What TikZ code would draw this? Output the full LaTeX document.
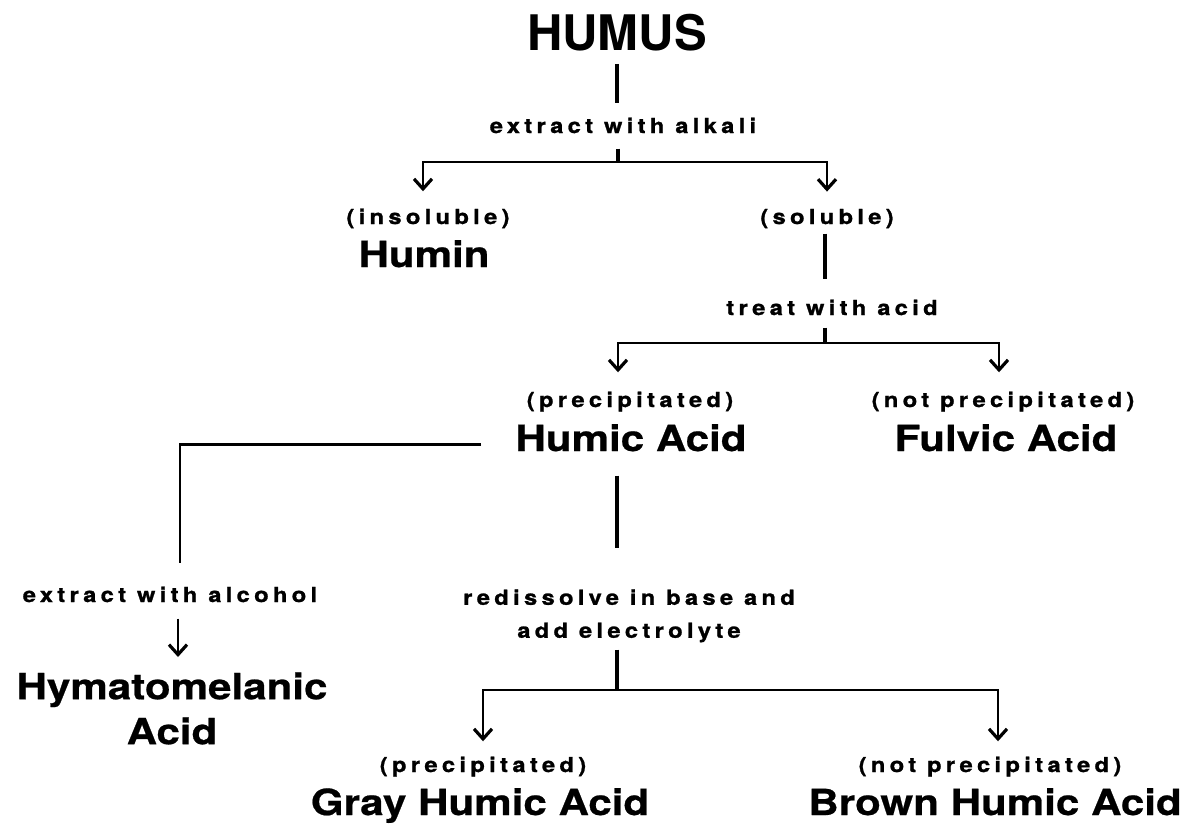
\documentclass[tikz,border=0pt]{standalone}
\usepackage{fontspec}
\setmainfont{TeX Gyre Heros}
\newfontfamily\notefont[LetterSpace=21,FakeStretch=1.15,FakeBold=1.2]{TeX Gyre Heros}
\newfontfamily\prodfont[FakeStretch=1.17,FakeBold=0.6]{TeX Gyre Heros}
\usetikzlibrary{arrows.meta,calc,positioning}
\begin{document}
\begin{tikzpicture}[x=0.5pt,y=-0.5pt,
      title/.style={font=\bfseries\fontsize{24.5}{28}\selectfont,inner sep=0pt,anchor=base},
      prod/.style={font=\prodfont\bfseries\fontsize{18}{22.5}\selectfont,inner sep=0pt,anchor=base},
      note/.style={font=\notefont\bfseries\fontsize{10.3}{16.5}\selectfont,inner sep=0pt,anchor=base},
      stem/.style={line width=1.9pt},
      link/.style={line width=1.3pt},
      arr/.style={link,-{Straight Barb[length=5pt,width=9pt,line width=1.6pt]}}]
      \useasboundingbox (0,0) rectangle (1192,827);
      \node[title] (humus) at (617,50) {HUMUS};
      \node[note] (alkali) at (623,133) {extract with alkali};
      \node[note] (insol) at (428,224) {(insoluble)};
      \node[prod] (humin) at (424,267) {Humin};
      \node[note] (sol) at (827,224) {(soluble)};
      \node[note] (acidtr) at (832,315) {treat with acid};
      \node[note] (prec) at (630,407) {(precipitated)};
      \node[prod] (humic) at (631,451) {Humic Acid};
      \node[note] (noprec) at (1003,407) {(not precipitated)};
      \node[prod] (fulvic) at (1006,451) {Fulvic Acid};
      \node[note] (alcohol) at (170,602) {extract with alcohol};
      \node[prod,align=center,anchor=north] (hymato) at (172,672) {Hymatomelanic\\Acid};
      \node[note,align=center,anchor=north] (redis) at (629,589) {redissolve in base and\\add electrolyte};
      \node[note] (gprec) at (483,772) {(precipitated)};
      \node[prod] (gray) at (480,815) {Gray Humic Acid};
      \node[note] (bprec) at (990,772) {(not precipitated)};
      \node[prod] (brown) at (995,815) {Brown Humic Acid};
      \coordinate (split1) at (618,162);
      \coordinate (split2) at (825,343);
      \coordinate (split3) at (617,690);
      \draw[stem,shorten <=6.5pt,shorten >=7pt] (humus.south) -- (humus.south |- alkali.north);
      \draw[stem,shorten <=7.5pt] (split1 |- alkali.south) -- (split1);
      \draw[arr,shorten >=8.5pt] (split1) -| ([xshift=-2.5pt]insol.north);
      \draw[arr,shorten >=8.5pt] (split1) -| (sol.north);
      \draw[stem,shorten <=2.5pt,shorten >=10pt] (split2 |- sol.south) -- (split2 |- acidtr.north);
      \draw[stem,shorten <=6pt] (split2 |- acidtr.south) -- (split2);
      \draw[arr,shorten >=9.5pt] (split2) -| ([xshift=-6pt]prec.north);
      \draw[arr,shorten >=9.5pt] (split2) -| ([xshift=-2pt]noprec.north);
      \draw[link,shorten <=17pt,shorten >=11.5pt] ([yshift=-3.5pt]humic.west) -| ([xshift=5pt]alcohol.north);
      \draw[arr,shorten <=8pt,shorten >=7.5pt] ([xshift=4pt]alcohol.south) -- ([xshift=4pt]alcohol.south |- hymato.north);
      \draw[stem,shorten <=12pt,shorten >=20.5pt] (split3 |- humic.south) -- (split3 |- redis.north);
      \draw[stem,shorten <=3.5pt] (split3 |- redis.south) -- (split3);
      \draw[arr,shorten >=7.5pt] (split3) -| (gprec.north);
      \draw[arr,shorten >=7.5pt] (split3) -| ([xshift=4pt]bprec.north);
    \end{tikzpicture}
\end{document}
